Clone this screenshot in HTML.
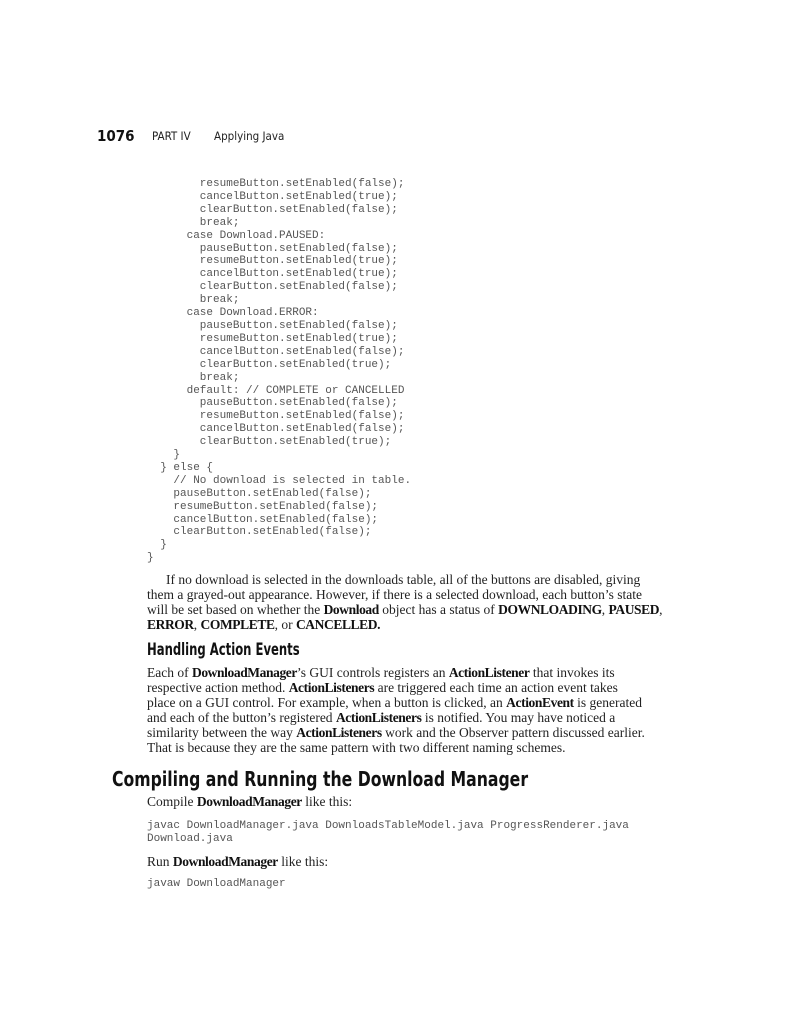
<!DOCTYPE html>
<html><head><meta charset="utf-8"><style>
body{margin:0;background:#fff;}
#p{position:relative;width:792px;height:1024px;overflow:hidden;background:#fff;}
.a{position:absolute;white-space:pre;line-height:1;}
.c{font-family:"Liberation Mono",monospace;font-size:11px;color:#555;}
.t{font-family:"Liberation Serif",serif;font-size:13.5px;color:#222;left:147px;}
.h{font-family:"DejaVu Sans Condensed","Liberation Sans",sans-serif;font-weight:bold;color:#111;transform-origin:left top;}
b{font-weight:bold;color:#111;letter-spacing:-0.4px;}
</style></head><body><div id="p">
<div class="a h" style="left:97px;top:129px;font-size:15px;">1076</div>
<div class="a" style="left:152px;top:131px;font-size:11.5px;font-family:'DejaVu Sans Condensed','Liberation Sans',sans-serif;color:#222;">PART IV</div>
<div class="a" style="left:214px;top:131px;font-size:11.5px;font-family:'DejaVu Sans Condensed','Liberation Sans',sans-serif;color:#222;">Applying Java</div>

<div class="a c" style="left:147px;top:178px;line-height:12.9px;">        resumeButton.setEnabled(false);
        cancelButton.setEnabled(true);
        clearButton.setEnabled(false);
        break;
      case Download.PAUSED:
        pauseButton.setEnabled(false);
        resumeButton.setEnabled(true);
        cancelButton.setEnabled(true);
        clearButton.setEnabled(false);
        break;
      case Download.ERROR:
        pauseButton.setEnabled(false);
        resumeButton.setEnabled(true);
        cancelButton.setEnabled(false);
        clearButton.setEnabled(true);
        break;
      default: // COMPLETE or CANCELLED
        pauseButton.setEnabled(false);
        resumeButton.setEnabled(false);
        cancelButton.setEnabled(false);
        clearButton.setEnabled(true);
    }
  } else {
    // No download is selected in table.
    pauseButton.setEnabled(false);
    resumeButton.setEnabled(false);
    cancelButton.setEnabled(false);
    clearButton.setEnabled(false);
  }
}</div>

<div class="a t" style="top:573px;left:166px;">If no download is selected in the downloads table, all of the buttons are disabled, giving</div>
<div class="a t" style="top:588px;">them a grayed-out appearance. However, if there is a selected download, each button’s state</div>
<div class="a t" style="top:603px;">will be set based on whether the <b>Download</b> object has a status of <b>DOWNLOADING</b>, <b>PAUSED</b>,</div>
<div class="a t" style="top:618px;"><b>ERROR</b>, <b>COMPLETE</b>, or <b>CANCELLED.</b></div>

<div class="a h" style="left:147px;top:642px;font-size:17px;transform:scaleX(0.76);">Handling Action Events</div>
<div class="a t" style="top:666px;">Each of <b>DownloadManager</b>’s GUI controls registers an <b>ActionListener</b> that invokes its</div>
<div class="a t" style="top:681px;">respective action method. <b>ActionListeners</b> are triggered each time an action event takes</div>
<div class="a t" style="top:696px;">place on a GUI control. For example, when a button is clicked, an <b>ActionEvent</b> is generated</div>
<div class="a t" style="top:711px;">and each of the button’s registered <b>ActionListeners</b> is notified. You may have noticed a</div>
<div class="a t" style="top:726px;">similarity between the way <b>ActionListeners</b> work and the Observer pattern discussed earlier.</div>
<div class="a t" style="top:741px;">That is because they are the same pattern with two different naming schemes.</div>

<div class="a h" style="left:112px;top:769px;font-size:20.5px;transform:scaleX(0.85);">Compiling and Running the Download Manager</div>
<div class="a t" style="top:795px;">Compile <b>DownloadManager</b> like this:</div>
<div class="a c" style="left:147px;top:820px;font-size:11px;line-height:13px;">javac DownloadManager.java DownloadsTableModel.java ProgressRenderer.java
Download.java</div>
<div class="a t" style="top:855px;">Run <b>DownloadManager</b> like this:</div>
<div class="a c" style="left:147px;top:879px;font-size:11px;">javaw DownloadManager</div>
</div></body></html>
